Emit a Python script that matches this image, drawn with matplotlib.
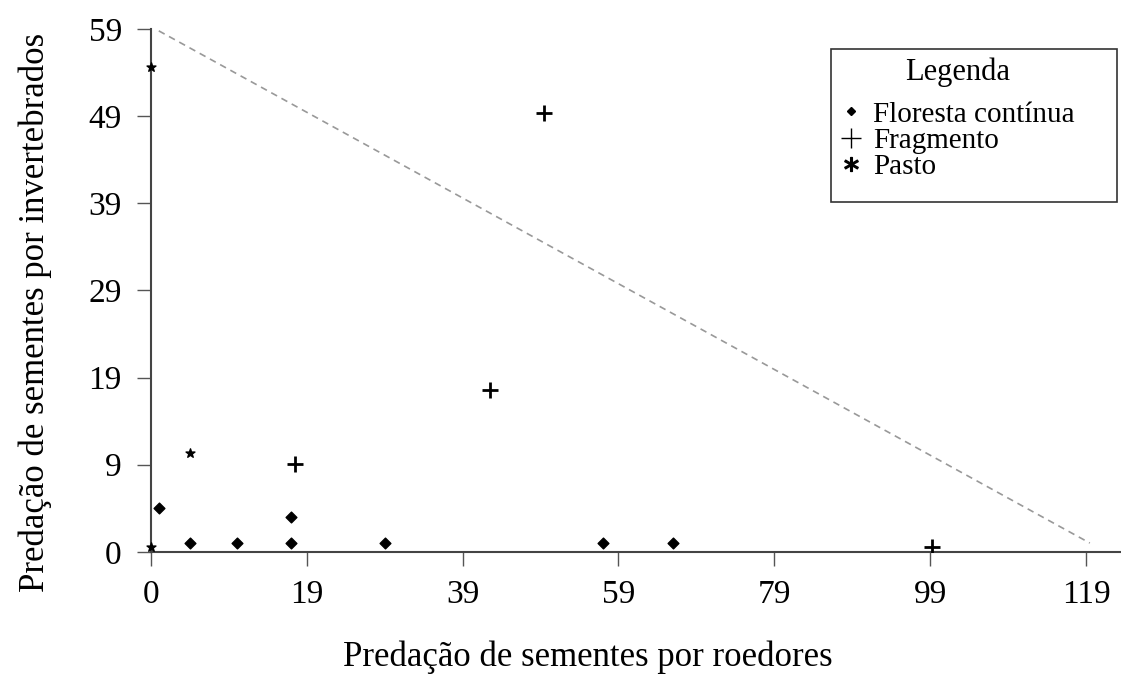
import matplotlib
matplotlib.use('Agg')
from matplotlib import pyplot as plt
from matplotlib.lines import Line2D
from matplotlib.patches import Rectangle

plt.rcParams['font.family'] = ['Liberation Serif', 'DejaVu Serif']

# valores (eixo comeca em -1, rotulos a cada 20)
floresta_x = [0, 4, 10, 17, 17, 29, 57, 66]
floresta_y = [4, 0, 0, 0, 3, 0, 0, 0]

fragmento_x = [17.5, 42.5, 49.5, 99.3]
fragmento_y = [9.1, 17.6, 49.4, -0.5]

pasto_x = [-1, -1, 4]
pasto_y = [-0.4, 54.7, 10.3]

limite_x = [0, 119.5]
limite_y = [58.8, 0]

xticks = [-1, 19, 39, 59, 79, 99, 119]
xlabels = ['0', '19', '39', '59', '79', '99', '119']
yticks = [-1, 9, 19, 29, 39, 49, 59]
ylabels = ['0', '9', '19', '29', '39', '49', '59']

fig = plt.figure(figsize=(11.21, 6.77), dpi=100)
ax = fig.add_axes([0.1347, 0.185, 0.8653, 0.772])

ax.plot(limite_x, limite_y, color='#999999', linestyle=(0, (4, 3)), linewidth=1.2, zorder=1)
ax.scatter(floresta_x, floresta_y, marker='D', s=30, color='black', zorder=3)
ax.scatter(fragmento_x, fragmento_y, marker='+', s=130, linewidths=2, color='black', zorder=3)
ax.scatter(pasto_x, pasto_y, marker='*', s=45, color='black', zorder=3, clip_on=False)

ax.set_xlim(-1, 123.5)
ax.set_ylim(-1, 59)
ax.set_xticks(xticks)
ax.set_xticklabels(xlabels)
ax.set_yticks(yticks)
ax.set_yticklabels(ylabels)
ax.tick_params(axis='both', labelsize=24, length=10, width=1, color='#555555')
ax.tick_params(axis='y', pad=11)
ax.tick_params(axis='x', pad=10)

for s in ['top', 'right']:
	ax.spines[s].set_visible(False)
for s in ['left', 'bottom']:
	ax.spines[s].set_color('#444444')
	ax.spines[s].set_linewidth(1.5)

fig.text(0.524, 1 - 657 / 677, 'Predação de sementes por roedores', fontsize=25, ha='center', va='center')
fig.text(0.031, 1 - 312 / 677, 'Predação de sementes por invertebrados', fontsize=25, ha='center', va='center', rotation=90)

# caixa da legenda
ax.add_patch(Rectangle((0.701, 0.669), 0.295, 0.293, transform=ax.transAxes, fill=False,
	edgecolor='#333333', linewidth=1.2, zorder=4))

handles = [
	Line2D([], [], linestyle='none', marker='D', markersize=4.5, color='black'),
	Line2D([], [], linestyle='none', marker='+', markersize=14, markeredgewidth=1.0, color='black'),
	Line2D([], [], linestyle='none', marker='$*$', markersize=10, color='black'),
]
nomes = ['Floresta contínua', 'Fragmento', 'Pasto']
leg = ax.legend(handles, nomes, title='Legenda', loc='upper left', bbox_to_anchor=(0.701, 0.962),
	fontsize=21, title_fontsize=22, frameon=False,
	handletextpad=0.35, handlelength=0.8, borderpad=0.3, labelspacing=0.0, borderaxespad=0.0)
leg._legend_box.sep = 10

fig.savefig('out.png', dpi=100)
